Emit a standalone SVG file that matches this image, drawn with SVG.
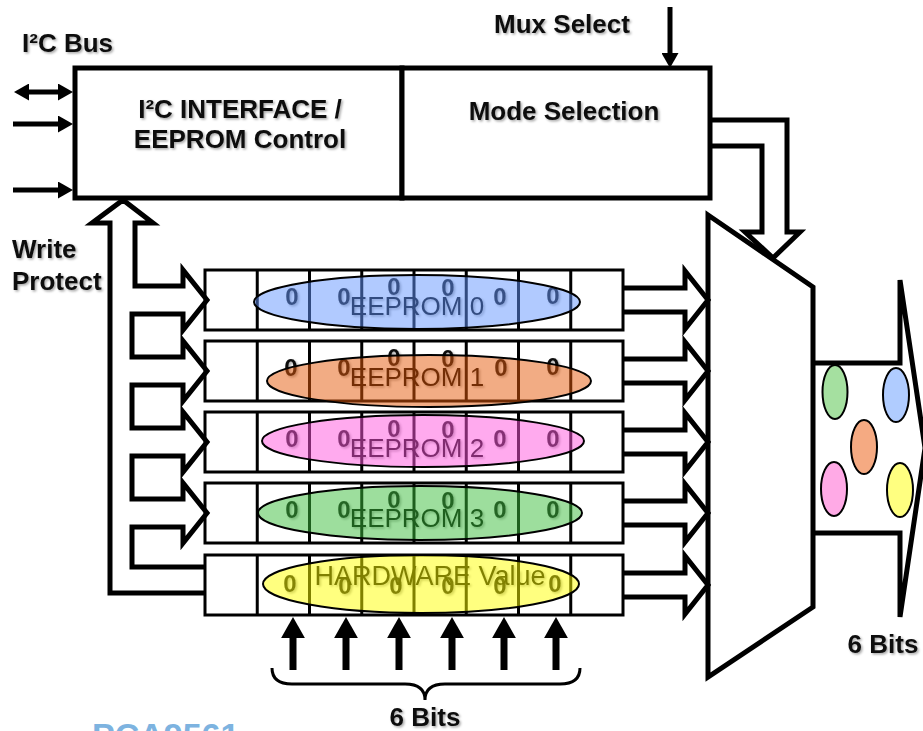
<svg xmlns="http://www.w3.org/2000/svg" width="923" height="731" viewBox="0 0 923 731">
<style>
  .bx{fill:#fff;stroke:#000;stroke-width:5}
  .t{font-family:"Liberation Sans",Arial,sans-serif;font-weight:bold;font-size:26px;fill:#111}
  .z{font-family:"Liberation Sans",Arial,sans-serif;font-weight:bold;font-size:24px;fill:#111;text-anchor:middle}
  .lb{font-family:"Liberation Sans",Arial,sans-serif;font-size:26px;fill:#000;text-anchor:middle}
  .cell{fill:#fff;stroke:#000;stroke-width:3}
  .cl{stroke:#000;stroke-width:3}
  .pipe{fill:none;stroke:#000;stroke-width:5;stroke-linejoin:miter;stroke-miterlimit:10}
  .ln{fill:none;stroke:#000}
  .ov{stroke:#000;stroke-width:2;fill-opacity:0.5}
  .dot{stroke:#000;stroke-width:2}
</style>
<defs>
  <marker id="ah" viewBox="0 0 10 10" refX="0" refY="5" markerWidth="3" markerHeight="3.4" orient="auto-start-reverse" preserveAspectRatio="none">
    <path d="M0,0 L10,5 L0,10 z" fill="#000"/>
  </marker>
  <filter id="sh" x="-5%" y="-30%" width="115%" height="170%">
    <feDropShadow dx="1.5" dy="1.5" stdDeviation="1" flood-color="#000" flood-opacity="0.35"/>
  </filter>
</defs>

<g id="labels" filter="url(#sh)">
  <text class="t" x="22" y="52">I²C Bus</text>
  <text class="t" x="562" y="33" text-anchor="middle">Mux Select</text>
  <text class="t" x="12" y="258">Write</text>
  <text class="t" x="12" y="290">Protect</text>
  <text class="t" x="425" y="726" text-anchor="middle">6 Bits</text>
  <text class="t" x="883" y="653" text-anchor="middle">6 Bits</text>
</g>
<text x="92" y="747" style="font-family:'Liberation Sans',Arial,sans-serif;font-weight:bold;font-size:34px;fill:#7db3e0">PCA9561</text>

<g id="i2c-interface">
  <rect class="bx" x="75" y="68" width="327" height="130"/>
  <g filter="url(#sh)">
    <text class="t" x="240" y="118" text-anchor="middle">I²C INTERFACE /</text>
    <text class="t" x="240" y="148" text-anchor="middle">EEPROM Control</text>
  </g>
</g>
<g id="mode-selection">
  <rect class="bx" x="402" y="68" width="308" height="130"/>
  <text class="t" x="564" y="120" text-anchor="middle" filter="url(#sh)">Mode Selection</text>
</g>

<g id="mux">
  <polygon points="708,215 813,287 813,607 708,677" fill="#fff" stroke="#000" stroke-width="5" stroke-linejoin="miter"/>
</g>

<g id="eeprom0">
  <rect class="cell" x="205" y="270" width="418" height="60"/>
  <path class="cl" d="M257.25,270V330M309.5,270V330M361.75,270V330M414,270V330M466.25,270V330M518.5,270V330M570.75,270V330"/>
  <g filter="url(#sh)">
    <text class="z" x="292" y="305">0</text><text class="z" x="344" y="305">0</text><text class="z" x="394" y="295">0</text><text class="z" x="448" y="296">0</text><text class="z" x="500" y="305">0</text><text class="z" x="553" y="304">0</text>
    <text class="lb" x="417" y="315">EEPROM 0</text>
  </g>
  <ellipse class="ov" cx="417" cy="302" rx="163" ry="27" fill="#6496ff"/>
</g>

<g id="eeprom1">
  <rect class="cell" x="205" y="341" width="418" height="60"/>
  <path class="cl" d="M257.25,341V401M309.5,341V401M361.75,341V401M414,341V401M466.25,341V401M518.5,341V401M570.75,341V401"/>
  <g filter="url(#sh)">
    <text class="z" x="291" y="376">0</text><text class="z" x="344" y="376">0</text><text class="z" x="394" y="366">0</text><text class="z" x="448" y="367">0</text><text class="z" x="501" y="376">0</text><text class="z" x="553" y="375">0</text>
    <text class="lb" x="417" y="386">EEPROM 1</text>
  </g>
  <ellipse class="ov" cx="429" cy="381" rx="162" ry="26" fill="#e65a0a"/>
</g>

<g id="eeprom2">
  <rect class="cell" x="205" y="412" width="418" height="60"/>
  <path class="cl" d="M257.25,412V472M309.5,412V472M361.75,412V472M414,412V472M466.25,412V472M518.5,412V472M570.75,412V472"/>
  <g filter="url(#sh)">
    <text class="z" x="292" y="447">0</text><text class="z" x="344" y="447">0</text><text class="z" x="394" y="437">0</text><text class="z" x="448" y="438">0</text><text class="z" x="500" y="447">0</text><text class="z" x="553" y="447">0</text>
    <text class="lb" x="417" y="457">EEPROM 2</text>
  </g>
  <ellipse class="ov" cx="423" cy="441" rx="161" ry="26" fill="#ff55dd"/>
</g>

<g id="eeprom3">
  <rect class="cell" x="205" y="483" width="418" height="60"/>
  <path class="cl" d="M257.25,483V543M309.5,483V543M361.75,483V543M414,483V543M466.25,483V543M518.5,483V543M570.75,483V543"/>
  <g filter="url(#sh)">
    <text class="z" x="292" y="518">0</text><text class="z" x="344" y="518">0</text><text class="z" x="394" y="508">0</text><text class="z" x="448" y="509">0</text><text class="z" x="500" y="518">0</text><text class="z" x="553" y="518">0</text>
    <text class="lb" x="417" y="527">EEPROM 3</text>
  </g>
  <ellipse class="ov" cx="420" cy="513" rx="162" ry="27" fill="#3cbe3c"/>
</g>

<g id="hardware-value">
  <rect class="cell" x="205" y="555" width="418" height="60"/>
  <path class="cl" d="M257.25,555V615M309.5,555V615M361.75,555V615M414,555V615M466.25,555V615M518.5,555V615M570.75,555V615"/>
  <g filter="url(#sh)">
    <text class="z" x="290" y="592">0</text><text class="z" x="345" y="594">0</text><text class="z" x="396" y="594">0</text><text class="z" x="448" y="594">0</text><text class="z" x="500" y="594">0</text><text class="z" x="555" y="592">0</text>
    <text class="lb" x="430" y="585" style="font-size:27px">HARDWARE Value</text>
  </g>
  <ellipse class="ov" cx="421" cy="584" rx="158" ry="29" fill="#ffff00"/>
</g>

<g id="connectors">
  <line class="ln" stroke-width="5" x1="29" y1="92" x2="58" y2="92" marker-start="url(#ah)" marker-end="url(#ah)"/>
  <line class="ln" stroke-width="5" x1="13" y1="124" x2="58" y2="124" marker-end="url(#ah)"/>
  <line class="ln" stroke-width="5" x1="13" y1="190" x2="58" y2="190" marker-end="url(#ah)"/>
  <line class="ln" stroke-width="5" x1="670" y1="7" x2="670" y2="53" marker-end="url(#ah)"/>
  <path class="pipe" fill="#fff" d="M710,120 L787,120 L787,232 L800,232 L773,258 L745,232 L762,232 L762,146 L710,146"/>
  <path class="pipe" d="M205,593 L110,593 L110,223 L92,223 L123,200 L153,223 L135,223 L135,286 L183,286 L183,270 L207,300 L183,330 L183,314 L132,314 L132,357 L183,357 L183,341 L207,371 L183,401 L183,385 L132,385 L132,428 L183,428 L183,412 L207,442 L183,472 L183,456 L132,456 L132,499 L183,499 L183,483 L207,513 L183,543 L183,527 L132,527 L132,567 L205,567"/>
  <path class="pipe" d="M623,288 L685,288 L685,271 L708,300 L685,329 L685,312 L623,312"/>
  <path class="pipe" d="M623,359 L685,359 L685,342 L708,371 L685,400 L685,383 L623,383"/>
  <path class="pipe" d="M623,430 L685,430 L685,413 L708,442 L685,471 L685,454 L623,454"/>
  <path class="pipe" d="M623,501 L685,501 L685,484 L708,513 L685,542 L685,525 L623,525"/>
  <path class="pipe" d="M623,573 L685,573 L685,556 L708,585 L685,614 L685,597 L623,597"/>
  <line class="ln" stroke-width="7" x1="293" y1="670" x2="293" y2="638" marker-end="url(#ah)"/>
  <line class="ln" stroke-width="7" x1="346" y1="670" x2="346" y2="638" marker-end="url(#ah)"/>
  <line class="ln" stroke-width="7" x1="399" y1="670" x2="399" y2="638" marker-end="url(#ah)"/>
  <line class="ln" stroke-width="7" x1="452" y1="670" x2="452" y2="638" marker-end="url(#ah)"/>
  <line class="ln" stroke-width="7" x1="504" y1="670" x2="504" y2="638" marker-end="url(#ah)"/>
  <line class="ln" stroke-width="7" x1="556" y1="670" x2="556" y2="638" marker-end="url(#ah)"/>
  <path class="ln" stroke-width="3" d="M272,668 Q272,684 292,684 L405,684 Q425,684 425,700 Q425,684 445,684 L560,684 Q580,684 580,668"/>
  <path class="pipe" d="M813,363 L900,363 L900,280 L925,448 L900,617 L900,533 L813,533"/>
  <ellipse class="dot" cx="835" cy="392" rx="12.5" ry="27" fill="#a5e0a0"/>
  <ellipse class="dot" cx="896" cy="395" rx="13" ry="27" fill="#b0ccff"/>
  <ellipse class="dot" cx="864" cy="447" rx="13" ry="27" fill="#f5aa82"/>
  <ellipse class="dot" cx="834" cy="489" rx="13" ry="27" fill="#ffaae6"/>
  <ellipse class="dot" cx="900" cy="490" rx="13" ry="27" fill="#ffff80"/>
</g>
</svg>
